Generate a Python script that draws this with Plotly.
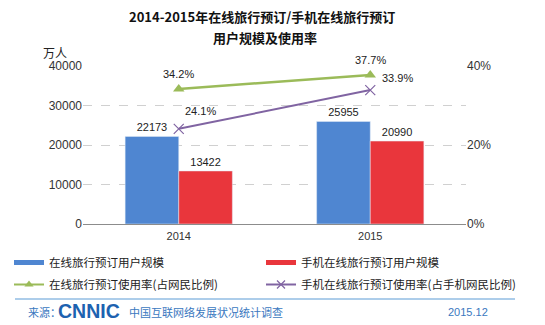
import plotly.graph_objects as go

years = ["2014", "2015"]
online_users = [22173, 25955]
mobile_users = [13422, 20990]
online_rate = [0.342, 0.377]
mobile_rate = [0.241, 0.339]

name_online_users = "在线旅行预订用户规模"
name_mobile_users = "手机在线旅行预订用户规模"
name_online_rate = "在线旅行预订使用率(占网民比例)"
name_mobile_rate = "手机在线旅行预订使用率(占手机网民比例)"

BLUE = "#4F86D1"
RED = "#E9363C"
GREEN = "#9BBB59"
PURPLE = "#8064A2"
CJK = "Noto Sans CJK SC"
LAT = "Liberation Sans"

W, H = 545, 325
L, R, T, B = 83, 79, 66, 101
PW, PH = W - L - R, H - T - B


def px(x):
    return (x - L) / PW


def py(y):
    return (H - B - y) / PH


xpos = list(range(len(years)))

fig = go.Figure()
fig.add_trace(go.Bar(x=xpos, y=online_users, marker=dict(color=BLUE),
                     text=[str(v) for v in online_users], textposition="outside",
                     textfont=dict(family=LAT, size=11, color="#222"),
                     name=name_online_users, showlegend=False))
fig.add_trace(go.Bar(x=xpos, y=mobile_users, marker=dict(color=RED),
                     text=[str(v) for v in mobile_users], textposition="outside",
                     textfont=dict(family=LAT, size=11, color="#222"),
                     name=name_mobile_users, showlegend=False))
fig.add_trace(go.Scatter(x=xpos, y=online_rate, yaxis="y2", mode="lines+markers",
                         line=dict(color=GREEN, width=2.5),
                         marker=dict(symbol="triangle-up", size=10, color=GREEN),
                         name=name_online_rate, showlegend=False))
fig.add_trace(go.Scatter(x=xpos, y=mobile_rate, yaxis="y2", mode="lines+markers",
                         line=dict(color=PURPLE, width=2),
                         marker=dict(symbol="x-thin", size=10, line=dict(color=PURPLE, width=1.2)),
                         name=name_mobile_rate, showlegend=False))

# legend-only entries: a single point placed below the fixed axis range, so it is clipped away
hidden = [-20000]
fig.add_trace(go.Scatter(x=xpos[:1], y=hidden, mode="lines", line=dict(color=BLUE, width=5),
                         name=name_online_users, legend="legend", legendgroup="a"))
fig.add_trace(go.Scatter(x=xpos[:1], y=hidden, mode="lines+markers", line=dict(color=GREEN, width=2),
                         marker=dict(symbol="triangle-up", size=8, color=GREEN), name=name_online_rate,
                         legend="legend", legendgroup="b"))
fig.add_trace(go.Scatter(x=xpos[:1], y=hidden, mode="lines", line=dict(color=RED, width=5),
                         name=name_mobile_users, legend="legend2", legendgroup="c"))
fig.add_trace(go.Scatter(x=xpos[:1], y=hidden, mode="lines+markers", line=dict(color=PURPLE, width=2),
                         marker=dict(symbol="x-thin", size=8, line=dict(color=PURPLE, width=1.2)),
                         name=name_mobile_rate, legend="legend2", legendgroup="d"))

ann = []
shifts_online = [(0, 15), (0, 15)]
shifts_mobile = [(22, 18), (27, 12)]
for i in xpos:
    ann.append(dict(x=i, y=online_rate[i], xref="x", yref="y2", text=f"{online_rate[i]*100:.1f}%",
                    showarrow=False, xshift=shifts_online[i][0], yshift=shifts_online[i][1],
                    xanchor="center", yanchor="middle",
                    font=dict(family=LAT, size=11, color="#222")))
    ann.append(dict(x=i, y=mobile_rate[i], xref="x", yref="y2", text=f"{mobile_rate[i]*100:.1f}%",
                    showarrow=False, xshift=shifts_mobile[i][0], yshift=shifts_mobile[i][1],
                    xanchor="center", yanchor="middle",
                    font=dict(family=LAT, size=11, color="#222")))


def note(x, y, text, font, xanchor="center"):
    return dict(x=px(x), y=py(y), xref="paper", yref="paper", text=text, showarrow=False,
                xanchor=xanchor, yanchor="middle", font=font)


FOOT = "#3A78C0"
ann += [
    note(262, 16, "<b>2014-2015年在线旅行预订/手机在线旅行预订</b>", dict(family=CJK, size=13, color="#111")),
    note(265, 38, "<b>用户规模及使用率</b>", dict(family=CJK, size=13, color="#111")),
    note(55, 52, "万人", dict(family=CJK, size=12, color="#222")),
    note(26, 312, "来源：", dict(family=CJK, size=11, color=FOOT), "left"),
    note(56, 311, "<b>CNNIC</b>", dict(family=LAT, size=19.5, color="#1D62B0"), "left"),
    note(127, 312, "中国互联网络发展状况统计调查", dict(family=CJK, size=11, color=FOOT), "left"),
    note(446, 312, "2015.12", dict(family=LAT, size=11, color=FOOT), "left"),
]

legend_common = dict(orientation="v", xanchor="left", yanchor="top",
                     font=dict(family=CJK, size=11.5, color="#222"), bgcolor="rgba(0,0,0,0)",
                     itemwidth=30, tracegroupgap=3)

fig.update_layout(
    width=W, height=H,
    margin=dict(l=L, r=R, t=T, b=B, pad=0, autoexpand=False),
    paper_bgcolor="white", plot_bgcolor="white",
    barmode="group", bargap=0.44, bargroupgap=0,
    font=dict(family=LAT, color="#333"),
    xaxis=dict(range=[-0.5, len(years) - 0.5], autorange=False, tickmode="array", tickvals=xpos,
               ticktext=years, showline=True, linecolor="#8C8C8C", linewidth=1, zeroline=False,
               ticks="", ticklabelstandoff=2, tickfont=dict(family=LAT, size=11, color="#333"),
               showgrid=False),
    yaxis=dict(range=[0, 40000], autorange=False, dtick=10000, tickformat="d", showgrid=True,
               gridcolor="#D0D0D0", griddash="dash", gridwidth=1, zeroline=False, showline=False,
               tickfont=dict(family=LAT, size=12, color="#333")),
    yaxis2=dict(range=[0, 0.4], autorange=False, dtick=0.2, tickformat=".0%", overlaying="y", side="right",
                showgrid=False, zeroline=False, showline=False,
                tickfont=dict(family=LAT, size=12, color="#333")),
    legend=dict(x=px(9), y=py(248), **legend_common),
    legend2=dict(x=px(261), y=py(248), **legend_common),
    annotations=ann,
    shapes=[dict(type="line", xref="paper", yref="paper", x0=px(15), x1=px(515), y0=py(299), y1=py(299),
                 line=dict(color="#5B9BD5", width=1))],
)

fig.write_html("out.html")
